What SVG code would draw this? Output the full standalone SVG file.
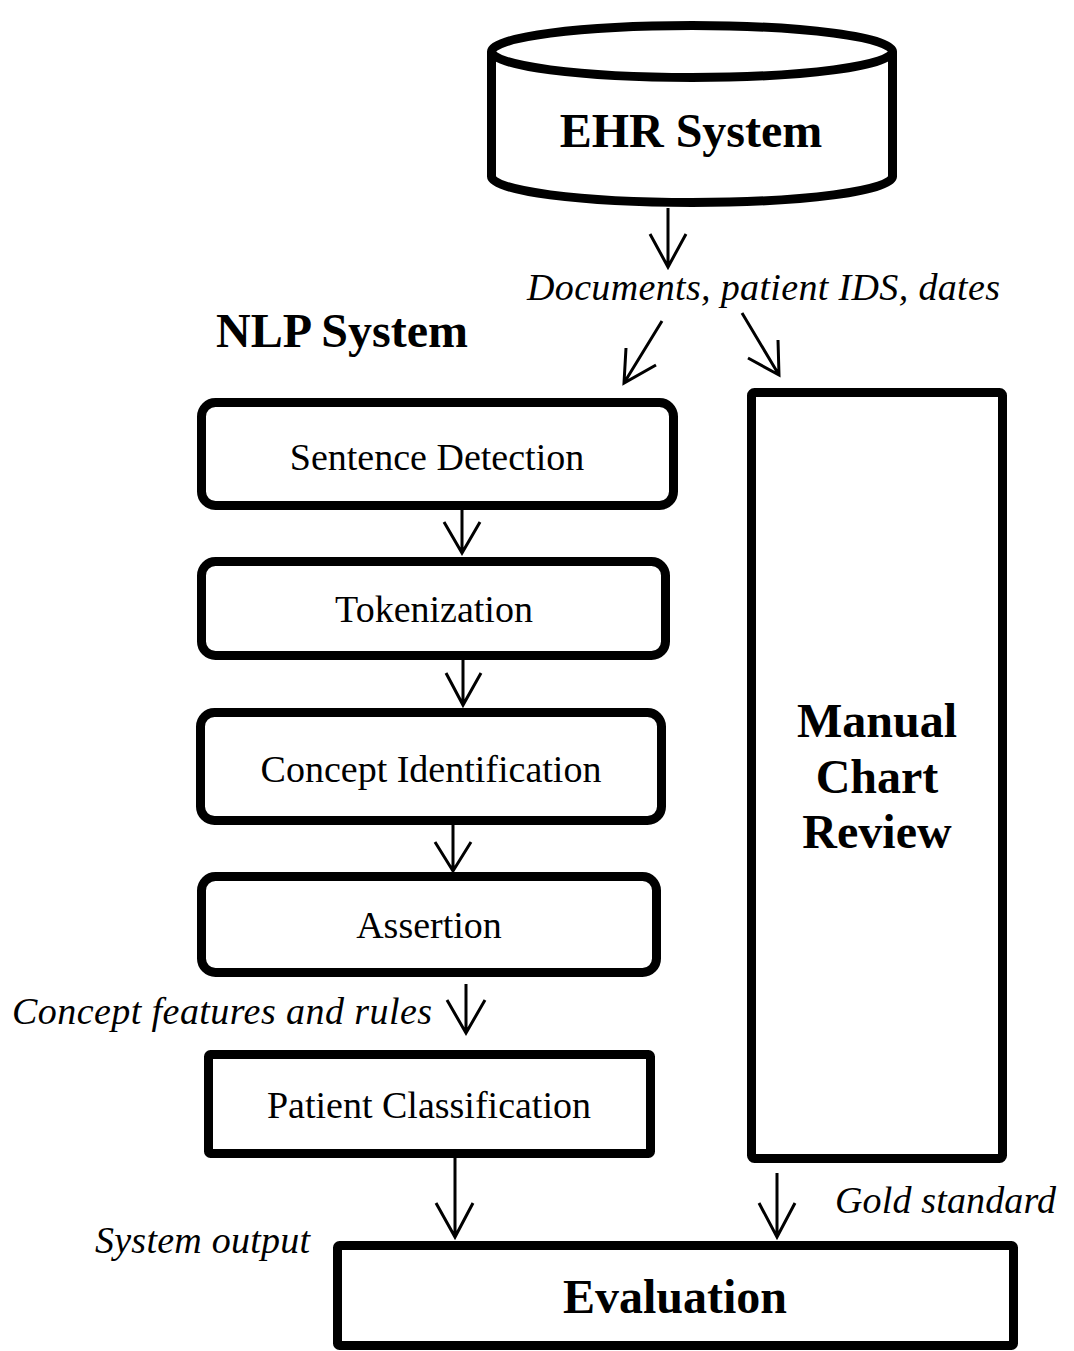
<svg xmlns="http://www.w3.org/2000/svg" width="1074" height="1351" viewBox="0 0 1074 1351">
  <style>
    .box { fill: #fff; stroke: #000; stroke-width: 9; }
    .lbl { font-family: "Liberation Serif", "Times New Roman", serif; font-size: 38px; fill: #000; text-anchor: middle; }
    .big { font-family: "Liberation Serif", "Times New Roman", serif; font-size: 48px; font-weight: bold; fill: #000; text-anchor: middle; }
    .note { font-family: "Liberation Serif", "Times New Roman", serif; font-size: 38px; font-style: italic; fill: #000; }
    .wire { fill: none; stroke: #000; stroke-width: 3; }
  </style>
  <rect width="1074" height="1351" fill="#fff"/>

  <!-- EHR database cylinder -->
  <g id="ehr">
    <path class="box" d="M491.5 51.5 V176.5 A200.5 26 0 0 0 892.5 176.5 V51.5"/>
    <ellipse class="box" cx="692" cy="51.5" rx="200.5" ry="26"/>
    <text class="big" x="691" y="147">EHR System</text>
  </g>

  <g id="nlp-title">
    <text class="big" x="342" y="347">NLP System</text>
  </g>

  <g id="sentence-detection">
    <rect class="box" x="201.5" y="402.5" width="472" height="103" rx="14"/>
    <text class="lbl" x="437" y="470">Sentence Detection</text>
  </g>

  <g id="tokenization">
    <rect class="box" x="201.5" y="561.5" width="464" height="94" rx="14"/>
    <text class="lbl" x="434" y="622">Tokenization</text>
  </g>

  <g id="concept-identification">
    <rect class="box" x="200.5" y="712.5" width="461" height="108" rx="14"/>
    <text class="lbl" x="431" y="782">Concept Identification</text>
  </g>

  <g id="assertion">
    <rect class="box" x="201.5" y="876.5" width="455" height="96" rx="14"/>
    <text class="lbl" x="429" y="938">Assertion</text>
  </g>

  <g id="patient-classification">
    <rect class="box" x="208.5" y="1054.5" width="442" height="99" rx="2"/>
    <text class="lbl" x="429" y="1118">Patient Classification</text>
  </g>

  <g id="manual-review">
    <rect class="box" x="751.5" y="392.5" width="251" height="766" rx="3"/>
    <text class="big" x="877" y="737">Manual</text>
    <text class="big" x="877" y="793">Chart</text>
    <text class="big" x="877" y="848">Review</text>
  </g>

  <g id="evaluation">
    <rect class="box" x="337.5" y="1245.5" width="676" height="100" rx="2"/>
    <text class="big" x="675" y="1313">Evaluation</text>
  </g>

  <!-- connector labels -->
  <g id="labels">
    <text class="note" x="527" y="300" textLength="473">Documents, patient IDS, dates</text>
    <text class="note" x="12" y="1024" textLength="420">Concept features and rules</text>
    <text class="note" x="95" y="1253" textLength="215">System output</text>
    <text class="note" x="835" y="1213" textLength="221">Gold standard</text>
  </g>

  <!-- connectors with open V heads -->
  <g id="connectors" class="wire">
    <path d="M668 208 V267 M650 234 L668 267 L686 234"/>
    <path d="M662 321 L624 383 M626 348 L624 383 L656 365"/>
    <path d="M742 313 L779 375 M778 340 L779 375 L748 358"/>
    <path d="M462 510 V553 M444 522 L462 553 L480 522"/>
    <path d="M463 660 V705 M446 673 L463 705 L481 673"/>
    <path d="M453 825 V871 M435 842 L453 871 L471 842"/>
    <path d="M466 984 V1033 M447 1000 L466 1033 L485 1000"/>
    <path d="M455 1158 V1237 M436 1203 L455 1237 L473 1203"/>
    <path d="M777 1173 V1237 M759 1203 L777 1237 L795 1203"/>
  </g>
</svg>
